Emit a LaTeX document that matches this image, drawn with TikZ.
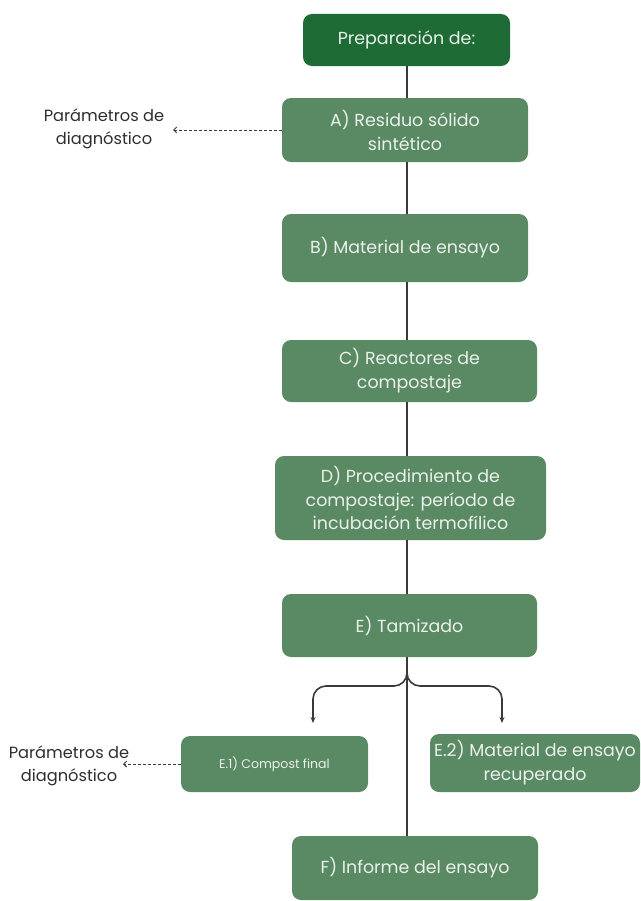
\documentclass[tikz,border=0pt]{standalone}
\usepackage{fontspec}
\setmainfont{Poppins}
\usetikzlibrary{arrows.meta}
\definecolor{darkg}{HTML}{1F6B36}
\definecolor{midg}{HTML}{5A8A64}
\definecolor{boxtxt}{HTML}{EAF0EA}
\definecolor{linec}{HTML}{3A3A3A}
\definecolor{labc}{HTML}{2E2E2E}
\tikzset{
  box/.style={fill=midg, rounded corners=9bp, text=boxtxt, align=center,
    inner sep=0pt, font=\fontsize{17.5}{24}\selectfont},
  topbox/.style={box, fill=darkg},
  conn/.style={draw=linec, line width=1.6bp},
  branch/.style={conn, rounded corners=13bp, -{Stealth[length=6bp,width=5bp]}},
  diag/.style={draw=linec, line width=1bp, dash pattern=on 3bp off 2bp,
    -{Straight Barb[length=3bp,width=6bp]}},
  lab/.style={text=labc, align=center, inner sep=0pt, font=\fontsize{16.3}{23}\selectfont}
}
\begin{document}
\begin{tikzpicture}[x=1bp,y=-1bp]
\useasboundingbox (0,0) rectangle (641,901);
\node[topbox, minimum width=207bp, minimum height=52bp] (prep) at (406.5,40) {Preparación de:};
\node[box, minimum width=246bp, minimum height=64bp] (A) at (405,130) {A) Residuo sólido\\sintético};
\node[box, minimum width=246bp, minimum height=68bp] (B) at (405,248) {B) Material de ensayo};
\node[box, minimum width=255bp, minimum height=62bp] (C) at (409.5,371) {C) Reactores de\\compostaje};
\node[box, minimum width=271bp, minimum height=84bp] (D) at (410.5,498) {D) Procedimiento de\\compostaje: período de\\incubación termofílico};
\node[box, minimum width=255bp, minimum height=63bp] (E) at (409.5,625.5) {E) Tamizado};
\node[box, minimum width=187bp, minimum height=56bp, font=\fontsize{12.6}{16}\selectfont] (E1) at (274.5,764) {E.1) Compost final};
\node[box, minimum width=210bp, minimum height=58bp] (E2) at (535,763) {E.2) Material de ensayo\\recuperado};
\node[box, minimum width=246bp, minimum height=64bp] (F) at (415,868) {F) Informe del ensayo};

\node[lab] (L1) at (104,129) {Parámetros de\\diagnóstico};
\node[lab] (L2) at (69,766) {Parámetros de\\diagnóstico};

\coordinate (sp) at (407,0);
\draw[conn] (prep.south -| sp) -- (A.north -| sp);
\draw[conn] (A.south -| sp) -- (B.north -| sp);
\draw[conn] (B.south -| sp) -- (C.north -| sp);
\draw[conn] (C.south -| sp) -- (D.north -| sp);
\draw[conn] (D.south -| sp) -- (E.north -| sp);
\draw[conn] (E.south -| sp) -- (F.north -| sp);

\coordinate (br) at (407,670);
\coordinate (lt) at (313,723);
\coordinate (rt) at (502,723);
\draw[branch] (br) -- (407,686) -- (lt |- 0,686) -- (lt);
\draw[branch] (br) -- (407,686) -- (rt |- 0,686) -- (rt);

\draw[diag] (A.west) -- (173,130);
\draw[diag] (E1.west) -- (123,764);
\end{tikzpicture}
\end{document}
